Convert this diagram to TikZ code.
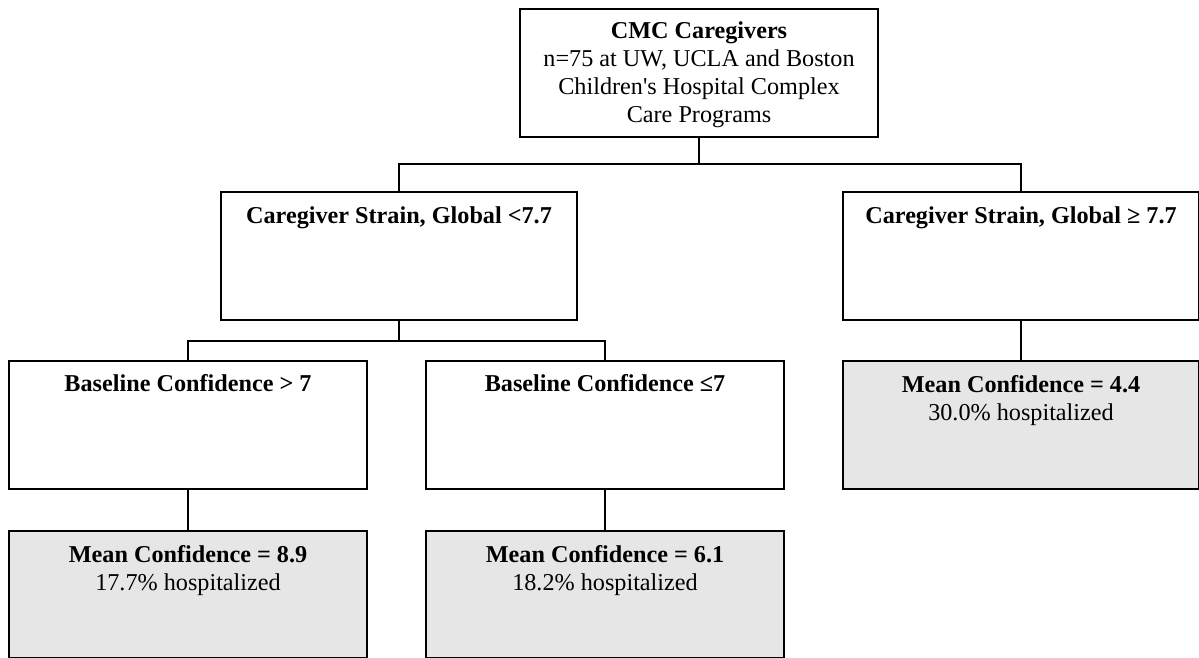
\documentclass[tikz,border=0pt]{standalone}
\usepackage{fontspec}
\setmainfont{Liberation Serif}[Ligatures=TeXOff]
\definecolor{leafgrey}{HTML}{E6E6E6}
\begin{document}
\begin{tikzpicture}[x=1pt,y=-1pt,
  box/.style={draw=black, line width=1.5pt, fill=white, inner sep=0pt, outer sep=0pt},
  leaf/.style={box, fill=leafgrey},
  txt/.style={anchor=north, inner sep=0pt, align=center, font=\fontsize{24.2}{28}\selectfont},
  conn/.style={line width=1.5pt, draw=black}]
\useasboundingbox (0,0) rectangle (1199,658);
\clip (0,0) rectangle (1199,658);
% boxes
\node[box, minimum width=358pt, minimum height=128pt] (top) at (699,73) {};
\node[box, minimum width=356pt, minimum height=128pt] (midL) at (399,256) {};
\node[box, minimum width=356pt, minimum height=128pt] (midR) at (1021,256) {};
\node[box, minimum width=358pt, minimum height=128pt] (baseL) at (188,425) {};
\node[box, minimum width=358pt, minimum height=128pt] (baseR) at (605,425) {};
\node[leaf, minimum width=356pt, minimum height=128pt] (meanR) at (1021,425) {};
\node[leaf, minimum width=358pt, minimum height=127pt] (meanL) at (188,594.5) {};
\node[leaf, minimum width=358pt, minimum height=127pt] (meanM) at (605,594.5) {};
% texts
\node[txt] (ttop) at ([yshift=-13pt]top.north) {\textbf{CMC Caregivers}\\n=75 at UW, UCLA and Boston\\Children's Hospital Complex\\Care Programs};
\node[txt] (tmidL) at ([yshift=-15pt]midL.north) {\textbf{Caregiver Strain, Global <7.7}};
\node[txt] (tmidR) at ([yshift=-15pt]midR.north) {\textbf{Caregiver Strain, Global ≥ 7.7}};
\node[txt] (tbaseL) at ([yshift=-13pt]baseL.north) {\textbf{Baseline Confidence > 7}};
\node[txt] (tbaseR) at ([yshift=-13pt]baseR.north) {\textbf{Baseline Confidence ≤7}};
\node[txt] (tmeanR) at ([yshift=-14pt]meanR.north) {\textbf{Mean Confidence = 4.4}\\30.0\% hospitalized};
\node[txt] (tmeanL) at ([yshift=-14pt]meanL.north) {\textbf{Mean Confidence = 8.9}\\17.7\% hospitalized};
\node[txt] (tmeanM) at ([yshift=-14pt]meanM.north) {\textbf{Mean Confidence = 6.1}\\18.2\% hospitalized};
% connectors
\coordinate (j1) at (699,164);
\coordinate (j2) at (399,341);
\draw[conn] (top.south) -- (j1) -| (midL.north);
\draw[conn] (j1) -| (midR.north);
\draw[conn] (midL.south) -- (j2) -| (baseL.north);
\draw[conn] (j2) -| (baseR.north);
\draw[conn] (midR.south) -- (meanR.north);
\draw[conn] (baseL.south) -- (meanL.north);
\draw[conn] (baseR.south) -- (meanM.north);
\end{tikzpicture}
\end{document}
